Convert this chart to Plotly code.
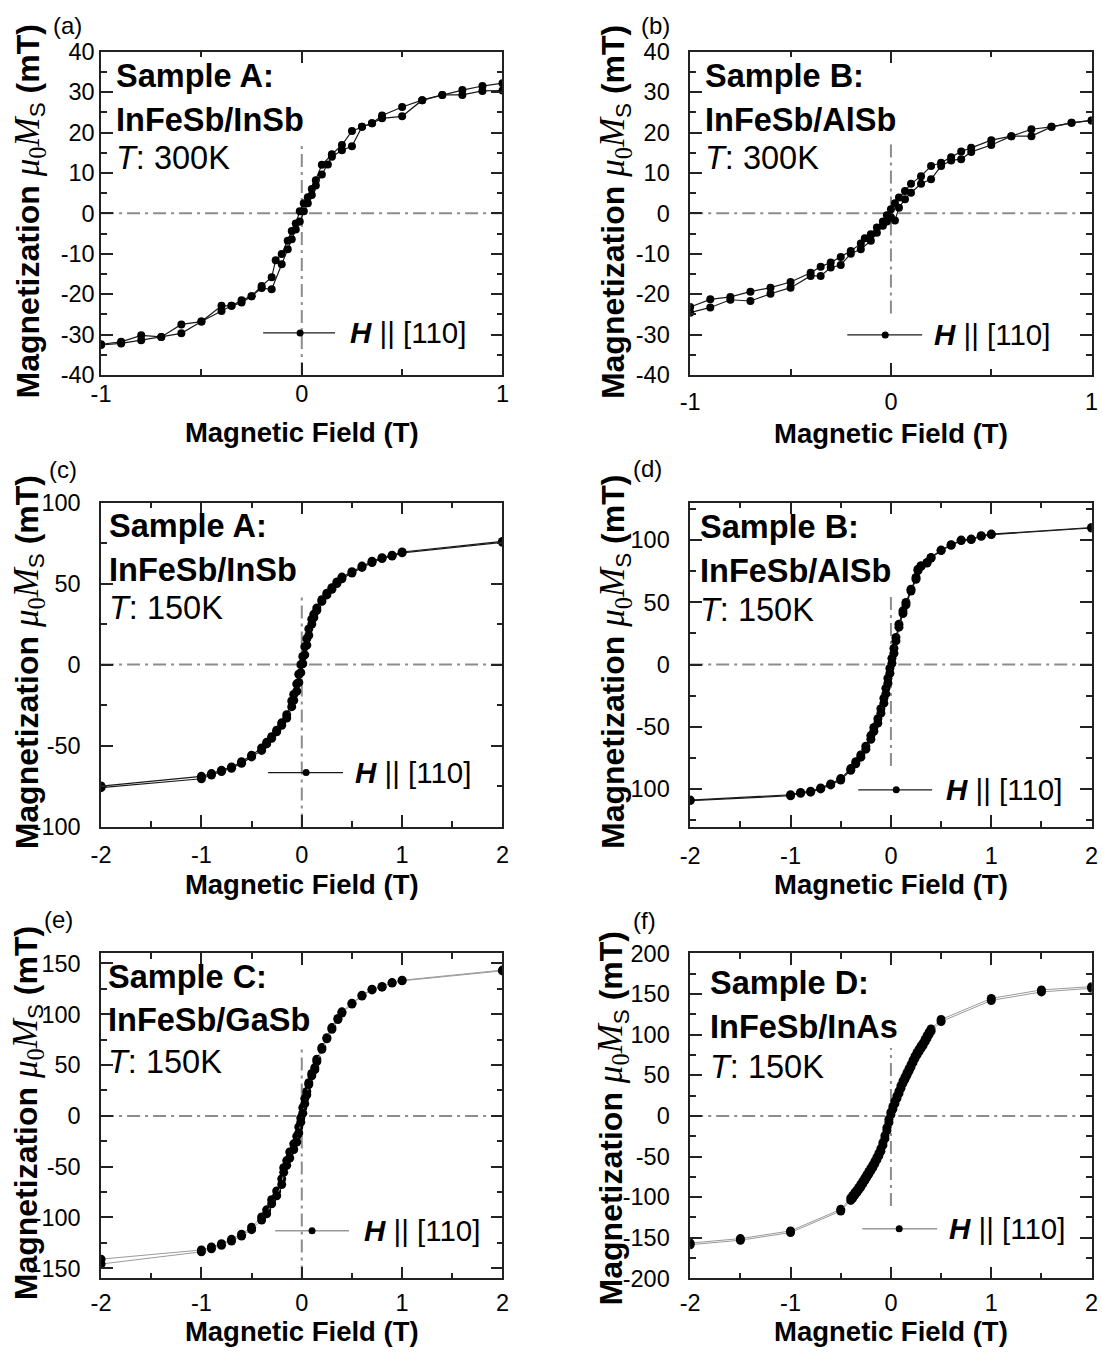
import plotly.graph_objects as go

# ---------------- data ----------------
A300_desc_H = [1.0, 0.9, 0.8, 0.7, 0.6, 0.5, 0.4, 0.35, 0.3, 0.25, 0.2, 0.15, 0.1, 0.07, 0.05, 0.03, 0.01,
               -0.01, -0.03, -0.05, -0.07, -0.1, -0.13, -0.15, -0.2, -0.25, -0.3, -0.35, -0.4, -0.5, -0.6, -0.7, -0.8, -0.9, -1.0]
A300_desc_M = [32.2, 31.5, 30.5, 29.3, 28.0, 26.3, 24.2, 22.3, 21.4, 20.4, 16.9, 14.6, 12.0, 8.2, 6.0, 4.0, 2.5,
               0.5, -2.5, -4.4, -6.8, -10.1, -11.6, -15.8, -18.0, -20.5, -21.5, -22.9, -22.9, -26.8, -27.5, -30.6, -30.2, -31.8, -32.4]
A300_asc_H = [-1.0, -0.9, -0.8, -0.7, -0.6, -0.5, -0.4, -0.35, -0.3, -0.25, -0.2, -0.15, -0.1, -0.07, -0.05, -0.03, -0.01,
              0.01, 0.03, 0.05, 0.07, 0.1, 0.13, 0.15, 0.2, 0.25, 0.3, 0.35, 0.4, 0.5, 0.6, 0.7, 0.8, 0.9, 1.0]
A300_asc_M = [-32.6, -32.2, -31.4, -30.6, -29.7, -26.8, -24.2, -22.9, -22.1, -20.5, -18.5, -18.8, -12.6, -8.9, -6.4, -4.0, -2.0,
              0.5, 2.5, 4.5, 6.9, 9.6, 12.1, 14.0, 15.6, 16.6, 21.4, 22.3, 23.5, 24.0, 28.0, 29.3, 29.3, 30.3, 30.4]

B300_desc_H = [1.0, 0.9, 0.8, 0.7, 0.6, 0.5, 0.4, 0.35, 0.3, 0.25, 0.2, 0.15, 0.1, 0.07, 0.04, 0.02, 0.0,
               -0.02, -0.04, -0.07, -0.1, -0.13, -0.15, -0.2, -0.25, -0.3, -0.35, -0.4, -0.5, -0.6, -0.7, -0.8, -0.9, -1.0]
B300_desc_M = [23.0, 22.4, 21.4, 20.8, 19.1, 18.1, 16.2, 15.3, 13.9, 12.5, 11.7, 9.2, 7.3, 5.5, 3.9, 2.5, 1.0,
               -0.5, -2.0, -3.5, -5.2, -6.2, -7.5, -9.3, -10.8, -12.2, -13.2, -14.7, -17.0, -18.4, -19.4, -20.7, -21.3, -23.2]
B300_asc_H = [-1.0, -0.9, -0.8, -0.7, -0.6, -0.5, -0.4, -0.35, -0.3, -0.25, -0.2, -0.15, -0.1, -0.07, -0.04, -0.02, 0.0,
              0.02, 0.04, 0.07, 0.1, 0.15, 0.2, 0.25, 0.3, 0.35, 0.4, 0.5, 0.6, 0.7, 0.8, 0.9, 1.0]
B300_asc_M = [-24.6, -23.3, -21.4, -21.7, -19.9, -18.4, -15.5, -15.5, -13.4, -12.8, -10.0, -8.9, -6.8, -4.8, -3.1, -2.0, -1.0,
              -1.8, 1.4, 3.5, 5.1, 7.3, 8.4, 11.7, 13.1, 13.4, 15.2, 16.9, 19.1, 19.1, 21.4, 22.4, 23.0]

A150_desc_H = [2.0, 1.0, 0.9, 0.8, 0.7, 0.6, 0.5, 0.4, 0.35, 0.3, 0.25, 0.2, 0.15, 0.12, 0.1, 0.07, 0.05, 0.03, 0.01,
               -0.01, -0.03, -0.05, -0.08, -0.1, -0.15, -0.2, -0.25, -0.3, -0.35, -0.4, -0.5, -0.6, -0.7, -0.8, -0.9, -1.0, -2.0]
A150_desc_M = [76.0, 69.5, 67.5, 66.0, 63.8, 60.8, 57.3, 54.0, 51.0, 47.5, 44.0, 40.0, 35.0, 31.0, 28.0, 22.0, 16.0, 11.0, 5.0,
               0.0, -6.0, -12.0, -18.5, -22.5, -31.0, -36.0, -40.5, -44.5, -48.0, -51.5, -56.0, -60.0, -63.2, -65.3, -67.3, -69.0, -75.0]
A150_asc_H = [-2.0, -1.0, -0.9, -0.8, -0.7, -0.6, -0.5, -0.4, -0.35, -0.3, -0.25, -0.2, -0.15, -0.1, -0.08, -0.05, -0.03, -0.01,
              0.01, 0.03, 0.05, 0.07, 0.1, 0.12, 0.15, 0.2, 0.25, 0.3, 0.35, 0.4, 0.5, 0.6, 0.7, 0.8, 0.9, 1.0, 2.0]
A150_asc_M = [-76.0, -70.5, -68.2, -66.0, -64.0, -61.0, -57.0, -53.0, -49.0, -45.5, -41.5, -37.5, -33.0, -26.0, -22.0, -16.5, -11.0, -5.0,
              0.5, 6.0, 12.0, 18.0, 25.0, 29.0, 33.5, 39.0, 43.0, 46.5, 50.0, 53.0, 56.5, 60.0, 63.0, 65.5, 67.0, 69.0, 75.5]

B150_desc_H = [2.0, 1.0, 0.9, 0.8, 0.7, 0.6, 0.5, 0.4, 0.36, 0.3, 0.27, 0.25, 0.2, 0.15, 0.12, 0.08, 0.05, 0.03, 0.01,
               -0.01, -0.03, -0.05, -0.07, -0.1, -0.13, -0.17, -0.2, -0.25, -0.3, -0.35, -0.4, -0.5, -0.6, -0.7, -0.8, -0.9, -1.0, -2.0]
B150_desc_M = [110.0, 104.7, 103.4, 100.7, 99.9, 96.2, 91.9, 86.0, 82.0, 79.3, 76.6, 69.9, 60.5, 49.8, 43.1, 32.4, 21.7, 13.0, 5.0,
               -3.0, -11.0, -19.0, -27.0, -35.5, -43.5, -50.5, -57.0, -65.5, -72.5, -78.0, -83.5, -91.5, -95.8, -99.0, -101.7, -102.6, -104.5, -108.8]
B150_asc_H = [-2.0, -1.0, -0.9, -0.8, -0.7, -0.6, -0.5, -0.4, -0.35, -0.3, -0.25, -0.2, -0.17, -0.13, -0.1, -0.07, -0.05, -0.03, -0.01,
              0.01, 0.03, 0.05, 0.08, 0.12, 0.15, 0.2, 0.25, 0.27, 0.3, 0.36, 0.4, 0.5, 0.6, 0.7, 0.8, 0.9, 1.0, 2.0]
B150_asc_M = [-109.2, -105.3, -103.3, -102.4, -99.8, -96.6, -92.7, -84.8, -79.6, -74.3, -67.9, -60.0, -53.5, -47.0, -39.0, -31.0, -23.5, -15.0, -7.0,
              1.0, 9.0, 19.0, 30.0, 41.0, 48.0, 59.0, 68.5, 75.5, 78.8, 81.5, 85.5, 91.5, 95.8, 99.5, 100.3, 103.0, 104.3, 109.6]

C150_desc_H = [2.0, 1.0, 0.9, 0.8, 0.7, 0.6, 0.5, 0.4, 0.36, 0.3, 0.25, 0.2, 0.15, 0.13, 0.1, 0.07, 0.05, 0.03, 0.01,
               -0.01, -0.03, -0.05, -0.08, -0.12, -0.15, -0.18, -0.2, -0.25, -0.3, -0.35, -0.4, -0.5, -0.6, -0.7, -0.8, -0.9, -1.0, -2.0]
C150_desc_M = [143.5, 133.5, 131.2, 127.3, 124.6, 118.8, 110.9, 102.4, 95.8, 86.9, 77.0, 67.2, 55.7, 47.4, 41.8, 32.6, 24.0, 17.0, 8.0,
               -2.0, -11.0, -20.0, -27.5, -35.5, -44.0, -51.0, -62.0, -74.0, -82.5, -92.5, -99.5, -109.5, -116.5, -121.5, -125.8, -129.0, -132.0, -141.0]
C150_asc_H = [-2.0, -1.0, -0.9, -0.8, -0.7, -0.6, -0.5, -0.4, -0.35, -0.3, -0.25, -0.2, -0.18, -0.15, -0.12, -0.08, -0.05, -0.03, -0.01,
              0.01, 0.03, 0.05, 0.07, 0.1, 0.13, 0.15, 0.2, 0.25, 0.3, 0.36, 0.4, 0.5, 0.6, 0.7, 0.8, 0.9, 1.0, 2.0]
C150_asc_M = [-145.8, -133.8, -130.8, -127.4, -123.2, -118.3, -112.0, -102.5, -96.3, -86.5, -78.6, -67.6, -55.6, -48.7, -41.5, -33.1, -25.7, -16.8, -6.2,
              2.6, 12.0, 20.8, 30.8, 39.5, 45.5, 53.5, 65.5, 75.8, 85.3, 94.8, 101.2, 110.1, 118.0, 124.0, 126.7, 130.7, 132.9, 142.7]

D150_desc_H = [2.0, 1.5, 1.0, 0.5, 0.40, 0.38, 0.36, 0.34, 0.32, 0.30, 0.28, 0.26, 0.24, 0.22, 0.20, 0.18, 0.16, 0.14, 0.12, 0.10,
               0.08, 0.06, 0.04, 0.02, 0.00, -0.02, -0.04, -0.06, -0.08, -0.10, -0.12, -0.14, -0.16, -0.18, -0.20, -0.22, -0.24, -0.26,
               -0.28, -0.30, -0.32, -0.34, -0.36, -0.38, -0.40, -0.5, -1.0, -1.5, -2.0]
D150_desc_M = [159.0, 155.0, 144.5, 118.5, 107.0, 103.0, 98.5, 94.0, 89.5, 86.0, 82.0, 78.0, 73.5, 68.5, 63.0, 58.0, 53.0, 48.0, 43.0, 37.0,
               30.5, 24.5, 18.0, 11.5, 4.5, -4.5, -14.5, -24.5, -33.0, -40.5, -46.0, -51.0, -56.0, -60.5, -64.5, -68.5, -72.5, -76.5,
               -80.5, -84.5, -88.0, -91.5, -94.5, -98.0, -101.0, -115.0, -141.5, -151.0, -156.5]
D150_asc_H = [-2.0, -1.5, -1.0, -0.5, -0.40, -0.38, -0.36, -0.34, -0.32, -0.30, -0.28, -0.26, -0.24, -0.22, -0.20, -0.18, -0.16, -0.14, -0.12, -0.10,
              -0.08, -0.06, -0.04, -0.02, 0.00, 0.02, 0.04, 0.06, 0.08, 0.10, 0.12, 0.14, 0.16, 0.18, 0.20, 0.22, 0.24, 0.26,
              0.28, 0.30, 0.32, 0.34, 0.36, 0.38, 0.40, 0.5, 1.0, 1.5, 2.0]
D150_asc_M = [-158.5, -153.0, -143.5, -117.0, -104.0, -101.0, -97.5, -94.5, -91.0, -87.5, -83.5, -79.5, -75.5, -71.5, -67.5, -63.5, -59.0, -54.0, -49.0, -43.5,
              -36.0, -28.0, -18.0, -8.0, 1.5, 8.5, 15.0, 21.5, 27.5, 34.0, 40.0, 45.0, 50.0, 55.0, 60.0, 65.5, 70.5, 75.0,
              79.0, 83.0, 86.5, 91.0, 95.5, 100.0, 104.0, 116.0, 142.0, 152.5, 157.0]

X_TICKS_1T = [-1, 0, 1]
X_LABELS_1T = ["-1", "0", "1"]
X_TICKS_2T = [-2, -1, 0, 1, 2]
X_LABELS_2T = ["-2", "-1", "0", "1", "2"]
Y_TICKS_40 = [-40, -30, -20, -10, 0, 10, 20, 30, 40]
Y_LABELS_40 = ["-40", "-30", "-20", "-10", "0", "10", "20", "30", "40"]
Y_TICKS_100 = [-100, -50, 0, 50, 100]
Y_LABELS_100 = ["-100", "-50", "0", "50", "100"]
Y_TICKS_150 = [-150, -100, -50, 0, 50, 100, 150]
Y_LABELS_150 = ["-150", "-100", "-50", "0", "50", "100", "150"]
Y_TICKS_200 = [-200, -150, -100, -50, 0, 50, 100, 150, 200]
Y_LABELS_200 = ["-200", "-150", "-100", "-50", "0", "50", "100", "150", "200"]

PANEL_LETTERS = ["(a)", "(b)", "(c)", "(d)", "(e)", "(f)"]
SAMPLE_NAMES = ["Sample A:", "Sample B:", "Sample A:", "Sample B:", "Sample C:", "Sample D:"]
STRUCTURES = ["InFeSb/InSb", "InFeSb/AlSb", "InFeSb/InSb", "InFeSb/AlSb", "InFeSb/GaSb", "InFeSb/InAs"]
TEMPERATURES = ["300K", "300K", "150K", "150K", "150K", "150K"]
LEGEND_TEXT = "<b><i>H</i></b> || [110]"
X_TITLE = "Magnetic Field (T)"
Y_TITLE = ("<b>Magnetization</b> <span style='font-family:Liberation Serif;font-size:35px'>"
           "<i>μ</i><sub>0</sub><i>M</i></span><sub>S</sub> <b>(mT)</b>")

# ---------------- geometry ----------------
W, HP = 1102, 1354
# placement of the page inside the returned photograph (measured): photo = S * page + C
SX, CX, SY, CY = 0.986, 9.5, 0.981, 12.0
FONT = "Liberation Sans, Arial, Helvetica, sans-serif"
AX = "#222222"
DASH = "#8c8c8c"


def px_x(rx):
    return ((rx - CX) / SX) / W


def px_y(ry):
    return 1 - ((ry - CY) / SY) / HP


panels = [
    dict(desc=(A300_desc_H, A300_desc_M), asc=(A300_asc_H, A300_asc_M), box=(100.7, 50.7, 502.7, 374.0),
         xr=[-1, 1], xt=(X_TICKS_1T, X_LABELS_1T), yr=[-40, 40], yt=(Y_TICKS_40, Y_LABELS_40), ymin=5,
         lc="#1a1a1a", lw=1.2, ms=8,
         leg=(263, 335, 300, 332, 348), txt=(114, [75.5, 119.0, 157.5]), ytitle=(28.5, 210.5),
         lett=(67, 25), xls=-3, yls=0, xts=17, vl=(0.0, 0.72)),
    dict(desc=(B300_desc_H, B300_desc_M), asc=(B300_asc_H, B300_asc_M), box=(690.7, 50.7, 1092.7, 374.0),
         xr=[-1, 1], xt=(X_TICKS_1T, X_LABELS_1T), yr=[-40, 40], yt=(Y_TICKS_40, Y_LABELS_40), ymin=5,
         lc="#1a1a1a", lw=1.2, ms=8,
         leg=(848, 923, 886, 334, 933), txt=(703.7, [75.5, 119.0, 157.5]), ytitle=(615, 211.5),
         lett=(656, 25), xls=5, yls=14, xts=10, vl=(0.19, 0.715)),
    dict(desc=(A150_desc_H, A150_desc_M), asc=(A150_asc_H, A150_asc_M), box=(100.7, 501.7, 502.7, 825.7),
         xr=[-2, 2], xt=(X_TICKS_2T, X_LABELS_2T), yr=[-100, 100], yt=(Y_TICKS_100, Y_LABELS_100), ymin=25,
         lc="#1a1a1a", lw=1.2, ms=9,
         leg=(268, 343, 306, 771.7, 353), txt=(107, [525.5, 569.0, 607.5]), ytitle=(28, 661),
         lett=(63, 469), xls=7, yls=14, xts=7, vl=(0.0, 0.71)),
    dict(desc=(B150_desc_H, B150_desc_M), asc=(B150_asc_H, B150_asc_M), box=(690.7, 501.7, 1092.7, 825.7),
         xr=[-2, 2], xt=(X_TICKS_2T, X_LABELS_2T), yr=[-130, 130], yt=(Y_TICKS_100, Y_LABELS_100), ymin=25,
         lc="#1a1a1a", lw=1.2, ms=9,
         leg=(859, 933, 897, 789, 945), txt=(698.7, [525.8, 570.0, 609.0]), ytitle=(615, 661.5),
         lett=(648, 468), xls=8, yls=14, xts=5, vl=(0.187, 0.717)),
    dict(desc=(C150_desc_H, C150_desc_M), asc=(C150_asc_H, C150_asc_M), box=(100.7, 952.5, 502.7, 1277.7),
         xr=[-2, 2], xt=(X_TICKS_2T, X_LABELS_2T), yr=[-160, 160], yt=(Y_TICKS_150, Y_LABELS_150), ymin=25,
         lc="#9a9a9a", lw=1.0, ms=9,
         leg=(275, 349, 312, 1230, 362), txt=(106, [975.8, 1019.0, 1061.7]), ytitle=(27, 1112),
         lett=(58, 919), xls=3, yls=14, xts=0, vl=(0.0, 0.71)),
    dict(desc=(D150_desc_H, D150_desc_M), asc=(D150_asc_H, D150_asc_M), box=(690.7, 952.5, 1092.7, 1277.7),
         xr=[-2, 2], xt=(X_TICKS_2T, X_LABELS_2T), yr=[-200, 200], yt=(Y_TICKS_200, Y_LABELS_200), ymin=25,
         lc="#9a9a9a", lw=1.0, ms=9,
         leg=(863, 938, 900, 1228, 948), txt=(708.7, [982.5, 1026.7, 1066.7]), ytitle=(613, 1118),
         lett=(645, 920), xls=3, yls=14, xts=0, vl=(0.223, 0.709)),
]

fig = go.Figure()
shapes, annotations = [], []
layout_axes = {}

for i, p in enumerate(panels):
    n = i + 1
    xa = "x" if n == 1 else f"x{n}"
    ya = "y" if n == 1 else f"y{n}"
    l, t, r, b = p["box"]
    pw, ph = r - l, b - t
    fx = lambda px, l=l, pw=pw: (px - l) / pw
    fy = lambda py, b=b, ph=ph: (b - py) / ph

    for (hh, mm) in (p["desc"], p["asc"]):
        fig.add_trace(go.Scatter(
            x=hh, y=mm, xaxis=xa, yaxis=ya, mode="lines+markers", name="H || [110]",
            line=dict(color=p["lc"], width=p["lw"]),
            marker=dict(size=p["ms"], color="black", line=dict(width=0)),
            showlegend=False, hoverinfo="x+y"))

    tickfont = dict(family=FONT, size=23.5, color="black")
    common = dict(ticks="inside", ticklen=12, tickwidth=1.5, tickcolor=AX,
                  showline=True, linecolor=AX, linewidth=1.5, mirror="ticks",
                  showgrid=False, zeroline=False, tickfont=tickfont, tickmode="array")
    layout_axes["xaxis" if n == 1 else f"xaxis{n}"] = dict(
        domain=[px_x(l), px_x(r)], anchor=ya, range=p["xr"],
        tickvals=p["xt"][0], ticktext=p["xt"][1],
        minor=dict(tickmode="linear", tick0=0, dtick=0.5, ticks="inside", ticklen=6, tickwidth=1.5, tickcolor=AX),
        ticklabelstandoff=p["xls"],
        title=dict(text=X_TITLE, font=dict(family=FONT, size=27.5, color="black", weight="bold"), standoff=p["xts"]),
        **common)
    layout_axes["yaxis" if n == 1 else f"yaxis{n}"] = dict(
        domain=[px_y(b), px_y(t)], anchor=xa, range=p["yr"],
        tickvals=p["yt"][0], ticktext=p["yt"][1],
        minor=dict(tickmode="linear", tick0=0, dtick=p["ymin"], ticks="inside", ticklen=6, tickwidth=1.5, tickcolor=AX),
        ticklabelstandoff=p["yls"], **common)

    dash = "13px,5px,3px,5px"
    shapes.append(dict(type="line", xref=f"{xa} domain", yref=ya, x0=0, x1=1, y0=0, y1=0,
                       line=dict(color=DASH, width=2, dash=dash), layer="below"))
    shapes.append(dict(type="line", xref=xa, yref=f"{ya} domain", x0=0, x1=0, y0=p["vl"][0], y1=p["vl"][1],
                       line=dict(color=DASH, width=2, dash=dash), layer="below"))

    # legend drawn like the original: long line sample with a small dot
    l0, l1, mx, ly, tx = p["leg"]
    shapes.append(dict(type="line", xref=f"{xa} domain", yref=f"{ya} domain", x0=fx(l0), x1=fx(l1),
                       y0=fy(ly), y1=fy(ly), line=dict(color=p["lc"], width=1.3), layer="above"))
    shapes.append(dict(type="circle", xref=f"{xa} domain", yref=f"{ya} domain", xsizemode="pixel", ysizemode="pixel",
                       xanchor=fx(mx), yanchor=fy(ly), x0=-3.5, x1=3.5, y0=-3.5, y1=3.5,
                       fillcolor="black", line=dict(width=0), layer="above"))
    annotations.append(dict(text=LEGEND_TEXT, xref="paper", yref="paper", x=px_x(tx), y=px_y(ly),
                            xanchor="left", yanchor="middle", showarrow=False,
                            font=dict(family=FONT, size=29.5, color="black")))

    sx, sys_ = p["txt"]
    lines = [(SAMPLE_NAMES[i], "bold"), (STRUCTURES[i], "bold"), (f"<i>T</i>: {TEMPERATURES[i]}", "normal")]
    for (txt, wgt), yy in zip(lines, sys_):
        annotations.append(dict(text=txt, xref="paper", yref="paper", x=px_x(sx), y=px_y(yy),
                                xanchor="left", yanchor="middle", showarrow=False,
                                font=dict(family=FONT, size=32.5, color="black", weight=wgt)))

    yx, yy = p["ytitle"]
    annotations.append(dict(text=Y_TITLE, xref="paper", yref="paper", x=px_x(yx), y=px_y(yy),
                            xanchor="center", yanchor="middle", textangle=-90, showarrow=False,
                            font=dict(family=FONT, size=32, color="black")))
    lx, lyy = p["lett"]
    annotations.append(dict(text=PANEL_LETTERS[i], xref="paper", yref="paper", x=px_x(lx), y=px_y(lyy),
                            xanchor="center", yanchor="middle", showarrow=False,
                            font=dict(family=FONT, size=24, color="black")))

fig.update_layout(
    width=W, height=HP, margin=dict(l=0, r=0, t=0, b=0),
    paper_bgcolor="white", plot_bgcolor="white",
    font=dict(family=FONT, color="black"),
    shapes=shapes, annotations=annotations, showlegend=False,
    **layout_axes)

fig.write_html("out.html", config={"displayModeBar": False},
               post_script="document.body.style.margin='0';document.body.style.overflow='hidden';")
